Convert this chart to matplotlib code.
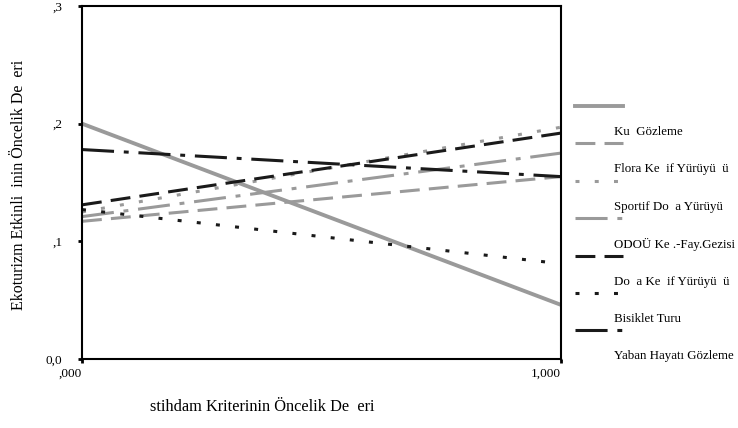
import matplotlib.pyplot as plt
from matplotlib.lines import Line2D

plt.rcParams['font.family'] = ['Liberation Serif', 'DejaVu Serif']

# x: İstihdam kriterinin öncelik değeri, y: ekoturizm etkinliğinin öncelik değeri
x_vals = [0.0, 1.0]
series_names = ['Ku  Gözleme', 'Flora Ke  if Yürüyü  ü', 'Sportif Do  a Yürüyü',
                'ODOÜ Ke .-Fay.Gezisi', 'Do  a Ke  if Yürüyü  ü', 'Bisiklet Turu',
                'Yaban Hayatı Gözleme']
kus = [0.200, 0.046]
flora = [0.117, 0.155]
sportif = [0.125, 0.197]
odou = [0.121, 0.175]
doga = [0.131, 0.192]
bisiklet = [0.127, 0.081]
yaban = [0.178, 0.155]
series_vals = [kus, flora, sportif, odou, doga, bisiklet, yaban]

y_ticks = [0.0, 0.1, 0.2, 0.3]
y_ticklabels = ['0,0', ',1', ',2', ',3']
x_ticks = [0.0, 1.0]
x_ticklabels = [',000', '1,000']

gray = '#9a9a9a'
black = '#1a1a1a'
dashed = (0, (6.5, 3))
dotted = (0, (1.3, 5))
dashdot = (0, (10.5, 3.2, 1.6, 3.2))
styles = [
    dict(color=gray, lw=2.8, ls='-'),
    dict(color=gray, lw=2.2, ls=dashed),
    dict(color=gray, lw=2.2, ls=dotted),
    dict(color=gray, lw=2.2, ls=dashdot),
    dict(color=black, lw=2.2, ls=dashed),
    dict(color=black, lw=2.2, ls=dotted),
    dict(color=black, lw=2.2, ls=dashdot),
]

fig = plt.figure(figsize=(7.38, 4.28), dpi=100)
ax = fig.add_axes([82 / 738, 1 - 359 / 428, (561 - 82) / 738, (359 - 6) / 428])

for vals, st in zip(series_vals, styles):
    ax.plot(x_vals, vals, **st)

ax.set_xlim(0, 1)
ax.set_ylim(0, 0.3)
ax.set_yticks(y_ticks)
ax.set_yticklabels(y_ticklabels, fontsize=9.5)
ax.set_xticks(x_ticks)
ax.set_xticklabels(x_ticklabels, fontsize=9.5)
for lab in ax.get_xticklabels():
    lab.set_horizontalalignment('right')
ax.tick_params(axis='both', length=3, width=2, direction='out')
ax.tick_params(axis='y', pad=11)
ax.tick_params(axis='x', pad=3)
for sp in ax.spines.values():
    sp.set_linewidth(1.5)

fig.text(19 / 738, 1 - 185 / 428, 'Ekoturizm Etkinli  inin Öncelik De  eri',
         rotation=90, ha='center', va='center', fontsize=11.5)
fig.text(150 / 738, 1 - 407 / 428, 'stihdam Kriterinin Öncelik De  eri',
         ha='left', va='center', fontsize=11.8)

# legend (samples sit above their labels, as in the original)
line_y0 = 106
step = 37.4
for i, (name, st) in enumerate(zip(series_names, styles)):
    ly = 1 - (line_y0 + i * step) / 428
    fig.add_artist(Line2D([575 / 738, 623 / 738], [ly, ly], transform=fig.transFigure, **st))
    ty = 1 - (line_y0 + 26 + i * step) / 428
    fig.text(614 / 738, ty, name, ha='left', va='center', fontsize=9.3)

fig.savefig('out.png', dpi=100)
